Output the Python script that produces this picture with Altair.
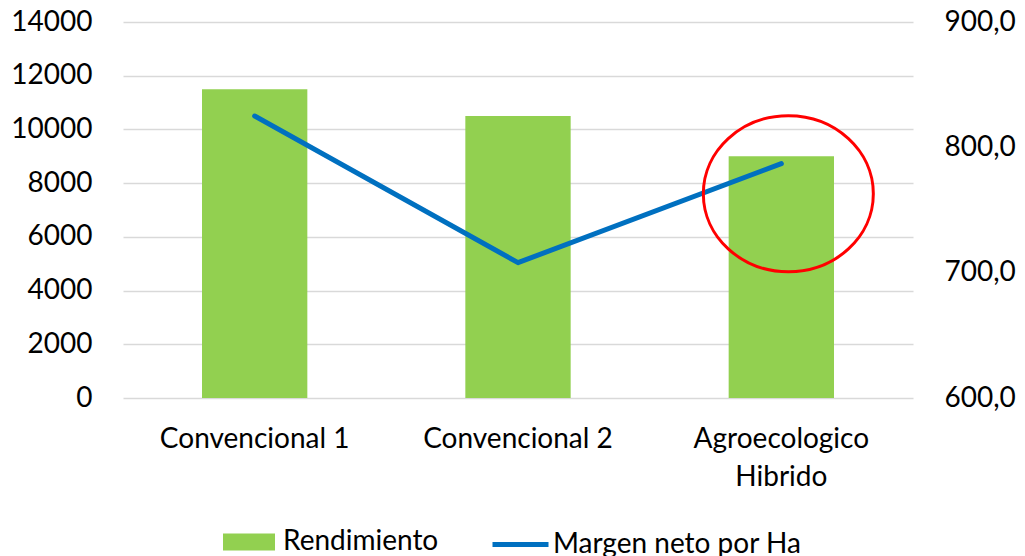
import altair as alt
import pandas as pd

# ---- data ----
categorias = ["Convencional 1", "Convencional 2", "Agroecologico Hibrido"]
rendimiento = [11500, 10500, 9000]
margen = [825.0, 708.0, 787.0]
serie_barras = "Rendimiento"
serie_linea = "Margen neto por Ha"
ticks_izq = [0, 2000, 4000, 6000, 8000, 10000, 12000, 14000]
ticks_der = [600, 700, 800, 900]
anot_cat = ["Agroecologico Hibrido"]
anot_val = [763.0]

df = pd.DataFrame({
    "categoria": categorias,
    "rendimiento": rendimiento,
    "margen": margen,
    "s1": [serie_barras] * len(categorias),
    "s2": [serie_linea] * len(categorias),
})
dfa = pd.DataFrame({"categoria": anot_cat, "valor": anot_val})

FONT = "Lato"
FS = 28
TXT = "#000000"

x_enc = alt.X(
    "categoria:N", sort=categorias, title=None,
    scale=alt.Scale(paddingInner=0.6, paddingOuter=0.3),
    axis=alt.Axis(
        labelAngle=0, domain=False, ticks=False, tickSize=0, grid=False,
        labelFont=FONT, labelFontSize=FS, labelColor=TXT,
        labelPadding=27, labelLineHeight=38, labelBaseline="top", labelLimit=400,
        labelExpr="length(datum.label) > 15 ? split(datum.label, ' ') : datum.label",
    ),
)

bars = alt.Chart(df).mark_bar(color="#92D050").encode(
    x=x_enc,
    y=alt.Y(
        "rendimiento:Q", title=None,
        scale=alt.Scale(domain=[0, 14000], nice=False, zero=True),
        axis=alt.Axis(
            orient="left", values=ticks_izq, format="d", domain=False, ticks=False, tickSize=0,
            labelPadding=31, labelFont=FONT, labelFontSize=FS, labelColor=TXT,
            grid=True, gridColor="#D9D9D9", gridWidth=1.5,
        ),
    ),
    color=alt.Color(
        "s1:N",
        scale=alt.Scale(domain=[serie_barras], range=["#92D050"]),
        legend=alt.Legend(
            title=None, orient="none", legendX=100, legendY=494, padding=0,
            symbolType="M-1,-0.327H1V0.327H-1Z", symbolSize=2704,
            symbolStrokeWidth=0, symbolOpacity=1,
            labelFont=FONT, labelFontSize=FS, labelColor=TXT, labelOffset=8,
            labelLimit=400,
        ),
    ),
)

line = alt.Chart(df).mark_line(strokeWidth=5, strokeCap="round", strokeJoin="round").encode(
    x=x_enc,
    y=alt.Y(
        "margen:Q", title=None,
        scale=alt.Scale(domain=[600, 900], nice=False, zero=False),
        axis=alt.Axis(
            orient="right", values=ticks_der, domain=False, ticks=False, tickSize=0,
            labelPadding=31, labelFont=FONT, labelFontSize=FS, labelColor=TXT, grid=False,
            labelExpr="replace(format(datum.value, '.1f'), '.', ',')",
        ),
    ),
    stroke=alt.Stroke(
        "s2:N",
        scale=alt.Scale(domain=[serie_linea], range=["#0070C0"]),
        legend=alt.Legend(
            title=None, orient="none", legendX=367, legendY=492, padding=0,
            symbolType="stroke", symbolSize=3136, symbolStrokeWidth=5,
            labelFont=FONT, labelFontSize=FS, labelColor=TXT, labelOffset=2,
            labelLimit=400,
        ),
    ),
)

ellipse_path = ("M-1,0 C-1,-0.507 -0.5523,-0.918 0,-0.918 C0.5523,-0.918 1,-0.507 1,0 "
                "C1,0.507 0.5523,0.918 0,0.918 C-0.5523,0.918 -1,0.507 -1,0 Z")

circle = alt.Chart(dfa).mark_point(
    shape=ellipse_path, size=28900, filled=False, stroke="#FF0000",
    strokeWidth=3, opacity=1, xOffset=7,
).encode(
    x=x_enc,
    y=alt.Y("valor:Q", scale=alt.Scale(domain=[600, 900], nice=False, zero=False), axis=None),
)

chart = alt.layer(bars, line, circle).resolve_scale(
    y="independent", color="independent", stroke="independent"
).properties(
    width=790, height=376,
    autosize=alt.AutoSizeParams(type="none"),
    padding={"left": 115, "top": 14, "right": 104, "bottom": 170},
).configure(background="white").configure_view(stroke=None)

chart.save("out.html", embed_options={"renderer": "svg", "actions": False})
